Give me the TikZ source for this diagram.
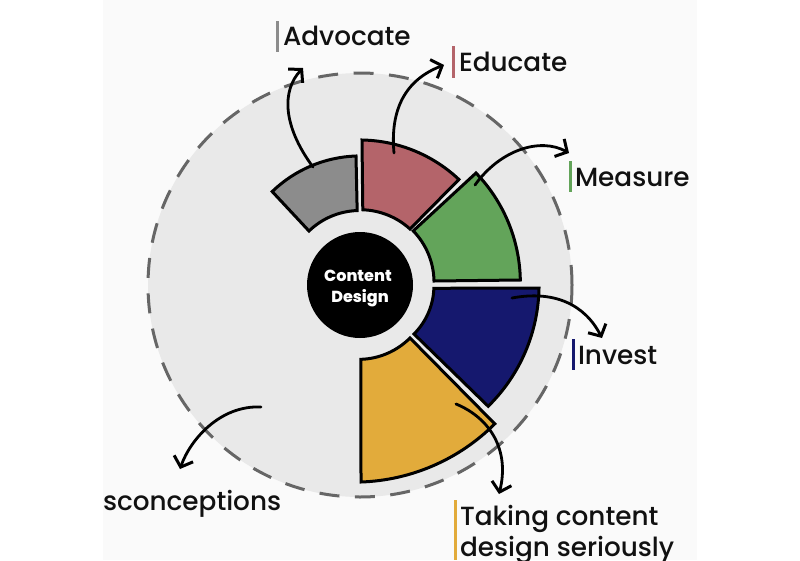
\documentclass[tikz,border=0pt]{standalone}
\usepackage{fontspec}
\setmainfont{Poppins Medium}
\usetikzlibrary{arrows.meta}
\definecolor{panelbg}{HTML}{FAFAFA}
\definecolor{discbg}{HTML}{E9E9E9}
\definecolor{dashc}{HTML}{666666}
\definecolor{cgray}{HTML}{8C8C8C}
\definecolor{cred}{HTML}{B4646A}
\definecolor{cgreen}{HTML}{63A45A}
\definecolor{cnavy}{HTML}{15186E}
\definecolor{cyellow}{HTML}{E2AB3B}
\definecolor{ink}{HTML}{111111}
\tikzset{
  x=1pt,y=1pt,
  sector/.style={draw=black,line width=3pt,line join=miter},
  flow/.style={draw=black,line width=2.8pt,line cap=round,-{Straight Barb[length=9pt,width=20pt,line width=3pt]}},
  lab/.style={anchor=base west,inner sep=0pt,outer sep=0pt,font=\fontsize{26.3}{31}\selectfont,text=ink},
  labbar/.style={line width=3pt},
}
\begin{document}
\begin{tikzpicture}
\useasboundingbox (0,-560) rectangle (800,0);
\fill[white] (0,-560) rectangle (800,0);
\fill[panelbg] (103,-560) rectangle (697,0);
\coordinate (ctr) at (360,-285);
\fill[discbg] (ctr) circle[radius=212];
\draw[dashc,line width=3pt,dash pattern=on 20pt off 15.5pt] (ctr) circle[radius=212];
% sectors
\draw[sector,fill=cgray] (356,-156) arc[start angle=92,end angle=134,radius=127] -- (309,-231) arc[start angle=134,end angle=92,radius=73] -- cycle;
\draw[sector,fill=cred] (362,-140) arc[start angle=89,end angle=46.7,radius=145] -- (410,-229) arc[start angle=47.7,end angle=88,radius=74] -- cycle;
\draw[sector,fill=cgreen] (476,-173) arc[start angle=44,end angle=1,radius=158] -- (434,-281) arc[start angle=1,end angle=44,radius=74] -- cycle;
\draw[sector,fill=cnavy] (539,-288) arc[start angle=-1,end angle=-45.5,radius=170] -- (414,-334) arc[start angle=-45,end angle=-2,radius=68] -- cycle;
\draw[sector,fill=cyellow] (361,-482) arc[start angle=-88,end angle=-45,radius=199] -- (410,-338) arc[start angle=-45,end angle=-88,radius=73] -- cycle;
% hub
\node[circle,fill=black,minimum size=106pt,inner sep=0pt] (hub) at (360,-285) {};
\node[anchor=base,inner sep=0pt,text=white,font=\fontsize{16}{21}\selectfont\bfseries] (hubA) at (358,-281) {Content};
\node[anchor=base,inner sep=0pt,text=white,font=\fontsize{16}{21}\selectfont\bfseries] (hubB) at (360,-302) {Design};
% labels
\node[lab] (advocate) at (283,-45) {Advocate};
\node[lab] (educate) at (459,-71) {Educate};
\node[lab] (measure) at (575,-186) {Measure};
\node[lab] (invest) at (578,-364) {Invest};
\node[lab] (takingA) at (460,-525) {Taking content};
\node[lab] (takingB) at (460,-556) {design seriously};
\node[lab] (miscon) at (103,-510) {sconceptions};
% bars
\draw[labbar,draw=cgray] (277,-21) -- (277,-52);
\draw[labbar,draw=cred] (453,-46) -- (453,-78);
\draw[labbar,draw=cgreen] (570,-161) -- (570,-192);
\draw[labbar,draw=cnavy] (573,-339) -- (573,-370);
\draw[labbar,draw=cyellow] (455,-500) -- (455,-560);
% arrows
\coordinate (sA) at (313,-167); \coordinate (tA) at (303,-68);
\coordinate (sE) at (394,-153); \coordinate (tE) at (444,-65);
\coordinate (sM) at (475,-185); \coordinate (tM) at (569,-153);
\coordinate (sI) at (512,-298); \coordinate (tI) at (602,-338);
\coordinate (sT) at (456,-404); \coordinate (tT) at (499,-494);
\coordinate (sC) at (261,-407); \coordinate (tC) at (180,-469);
\draw[flow] (sA) .. controls (282,-125) and (282,-90) .. (tA);
\draw[flow] (sE) .. controls (390,-110) and (405,-80) .. (tE);
\draw[flow] (sM) .. controls (500,-150) and (540,-137) .. (tM);
\draw[flow] (sI) .. controls (555,-290) and (585,-305) .. (tI);
\draw[flow] (sT) .. controls (490,-418) and (510,-450) .. (tT);
\draw[flow] (sC) .. controls (220,-405) and (190,-440) .. (tC);
\end{tikzpicture}
\end{document}
